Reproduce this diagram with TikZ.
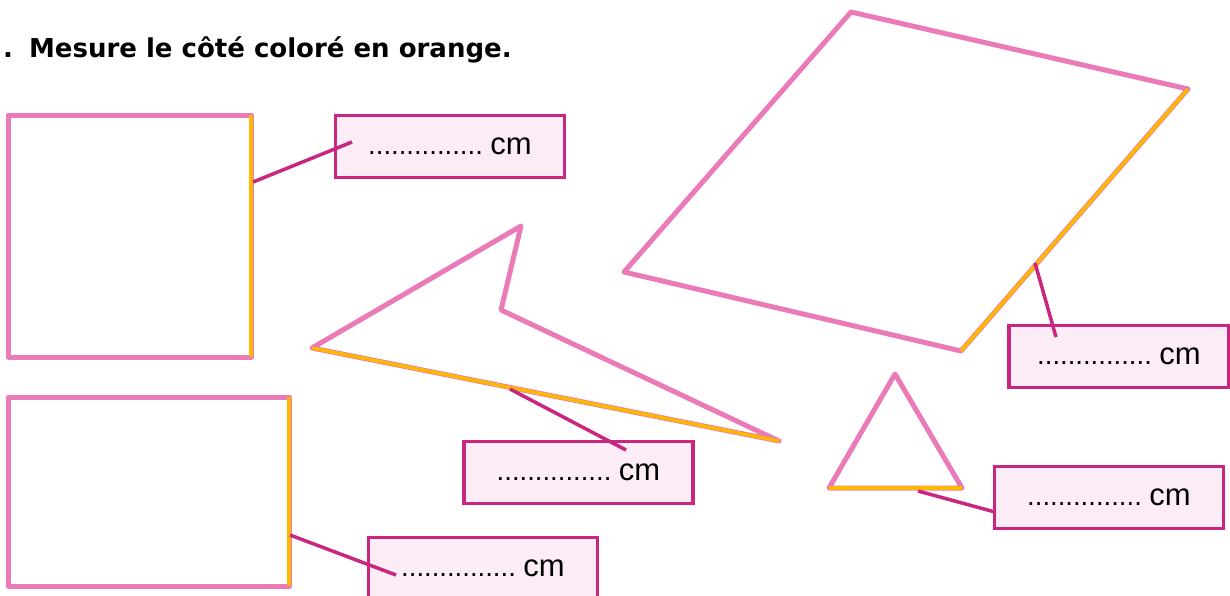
\documentclass[tikz,border=0pt]{standalone}
\usepackage{fontspec}
\setmainfont{Liberation Sans}
\newfontfamily\titlefont{DejaVu Sans}
\definecolor{shapepink}{RGB}{234,123,184}
\definecolor{sideorange}{RGB}{255,184,0}
\definecolor{tagmagenta}{RGB}{200,38,128}
\definecolor{tagfill}{RGB}{251,236,245}
\newcommand{\blankcm}{{\fontsize{27.5}{32}\selectfont ...............\ }{\fontsize{31}{32}\selectfont cm}}
\tikzset{
  shapeline/.style={draw=shapepink,line width=5,line join=round},
  sideline/.style={draw=sideorange,line width=3.5},
  tagbox/.style={draw=tagmagenta,fill=tagfill,line width=3.5,minimum width=229,minimum height=62,inner sep=0},
  tagline/.style={draw=tagmagenta,line width=3.5}
}
\begin{document}
\begin{tikzpicture}[x=1pt,y=1pt,yscale=-1]
\useasboundingbox (0,0) rectangle (1230,595);

% Title
\node (title) [anchor=base west,inner sep=0,font=\titlefont\bfseries\fontsize{26}{30}\selectfont] at (3,57) {.\hspace{16pt}Mesure le côté coloré en orange.};

%Shape: Square
\draw [shapeline] (8,115) rectangle (251,357);
\draw [sideline] (251,115) -- (251,357);
%Shape: Rectangle
\draw [shapeline] (8,397) rectangle (289,586);
\draw [sideline] (289,397) -- (289,586);
%Shape: Concave quadrilateral
\draw [shapeline] (312,348) -- (521,226) -- (501,310) -- (779,441) -- cycle;
\draw [sideline] (312,348) -- (779,441);
%Shape: Parallelogram
\draw [shapeline] (851,12) -- (1188,89) -- (961,351) -- (624,272) -- cycle;
\draw [sideline] (1188,89) -- (961,351);
%Shape: Triangle
\draw [shapeline] (895,374) -- (962,488) -- (829,488) -- cycle;
\draw [sideline] (829,488) -- (962,488);

% Text Nodes
\node (square) [tagbox] at (450,146.5) {\blankcm};
\node (rect) [tagbox] at (483,568.5) {\blankcm};
\node (concave) [tagbox] at (578.5,472.5) {\blankcm};
\node (para) [tagbox,minimum width=220] at (1119,356.5) {\blankcm};
\node (tri) [tagbox] at (1109,497.5) {\blankcm};

% callout ends
\coordinate (squareside) at (253,182);
\coordinate (squaretip) at (352,142);
\coordinate (rectside) at (290,535);
\coordinate (recttip) at (396,575);
\coordinate (concaveside) at (510,389);
\coordinate (concavetip) at (626,450);
\coordinate (paraside) at (1035,263);
\coordinate (paratip) at (1056,337);
\coordinate (triside) at (918,491);
\coordinate (tritip) at (995,512);

%Straight Lines
\draw [tagline] (squareside) -- (squaretip);
\draw [tagline] (rectside) -- (recttip);
\draw [tagline] (concaveside) -- (concavetip);
\draw [tagline] (paraside) -- (paratip);
\draw [tagline] (triside) -- (tritip);
\end{tikzpicture}
\end{document}
